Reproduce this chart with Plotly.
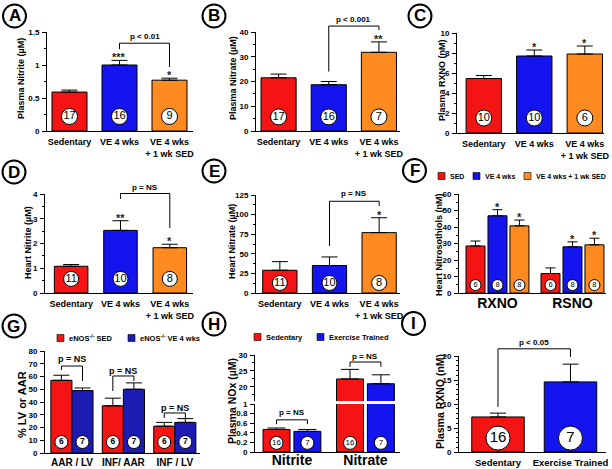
import plotly.graph_objects as go

W, H = 612, 469
FONT = "Liberation Sans"

RED = "#F51414"
BLUE = "#1414EE"
ORANGE = "#FF8A1F"
NAVY = "#1C1CB4"

# ---------------- data ----------------
groups3 = ["Sedentary", "VE 4 wks", "VE 4 wks<br>+ 1 wk SED"]

a_vals = [0.59, 1.00, 0.77]
a_err = [0.03, 0.07, 0.03]
a_n = [17, 16, 9]

b_vals = [21.5, 18.7, 31.8]
b_err = [1.5, 1.3, 4.2]
b_n = [17, 16, 7]

c_vals = [5.45, 7.7, 7.9]
c_err = [0.3, 0.6, 0.8]
c_n = [10, 10, 6]

d_vals = [1.08, 2.53, 1.83]
d_err = [0.07, 0.39, 0.14]
d_n = [11, 10, 8]

e_vals = [29, 35, 77]
e_err = [11, 11, 19]
e_n = [11, 10, 8]

f_cats = ["RXNO", "RSNO"]
f_series = ["SED", "VE 4 wks", "VE 4 wks + 1 wk SED"]
f_vals = [[28.5, 11.8], [46.8, 28.0], [40.7, 29.2]]
f_err = [[3.0, 3.4], [3.7, 3.0], [3.5, 4.0]]
f_n = [[6, 6], [8, 8], [8, 8]]

g_cats = ["AAR / LV", "INF/ AAR", "INF / LV"]
g_series = ["eNOS<sup>-/-</sup> SED", "eNOS<sup>-/-</sup> VE 4 wks"]
g_vals = [[57, 37, 21], [49, 50, 24]]
g_err = [[4, 6, 3], [2, 5, 3]]
g_n = [[6, 6, 6], [7, 7, 7]]

h_cats = ["Nitrite", "Nitrate"]
h_series = ["Sedentary", "Exercise Trained"]
h_vals = [[0.47, 22.5], [0.43, 21.0]]
h_err = [[0.03, 3.0], [0.04, 2.8]]
h_n = [[16, 16], [7, 7]]

i_cats = ["Sedentary", "Exercise Trained"]
i_vals = [7.3, 14.6]
i_err = [0.8, 3.7]
i_n = [16, 7]

# ---------------- helpers ----------------
fig = go.Figure()
layout = {}
shapes = []
annotations = []
ranges = {}


def sfx(i):
    return "" if i == 1 else str(i)


def add_axes(i, box, xr, yr, tickvals, ticktext, xfont=9, dtick=None, minor=None,
             ytickvals=None, anchor_x=None, xstandoff=2):
    x0, x1, top, bot = box
    s = sfx(i)
    ranges[i] = (xr, yr)
    if tickvals is not None:
        layout["xaxis" + s] = dict(
            domain=[x0 / W, x1 / W], range=xr, anchor="y" + s, automargin=False,
            showline=True, linecolor="black", linewidth=1, ticks="",
            showgrid=False, zeroline=False, tickvals=tickvals, ticktext=ticktext,
            tickfont=dict(family=FONT, size=xfont, color="black", weight="bold"),
            ticklabelstandoff=xstandoff,
        )
    ya = dict(
        domain=[1 - bot / H, 1 - top / H], range=yr, automargin=False,
        anchor="x" + (s if anchor_x is None else sfx(anchor_x)),
        showline=True, linecolor="black", linewidth=1, ticks="outside", ticklen=4,
        tickwidth=1, tickcolor="black", showgrid=False, zeroline=False,
        tickfont=dict(family=FONT, size=8, color="black", weight="bold"),
        ticklabelstandoff=1,
    )
    if dtick is not None:
        ya["dtick"] = dtick
        ya["tick0"] = 0
    if ytickvals is not None:
        ya["tickvals"] = ytickvals
    if minor is not None:
        ya["minor"] = dict(ticks="outside", dtick=minor, ticklen=2, tickcolor="black",
                           tickwidth=1, showgrid=False)
    layout["yaxis" + s] = ya


def fx(i, x):
    xr = ranges[i][0]
    return (x - xr[0]) / (xr[1] - xr[0])


def fy(i, y):
    yr = ranges[i][1]
    return (y - yr[0]) / (yr[1] - yr[0])


def line(i, xa, ya, xb, yb, xi=None):
    s = sfx(i)
    xi = i if xi is None else xi
    shapes.append(dict(type="line", xref="x" + sfx(xi) + " domain", yref="y" + s + " domain",
                       x0=fx(xi, xa), y0=fy(i, ya), x1=fx(xi, xb), y1=fy(i, yb),
                       line=dict(color="black", width=1)))


def text_at(i, x, y, text, size, xi=None, yanchor="middle", yshift=0, color="black"):
    xi = i if xi is None else xi
    annotations.append(dict(text=text, x=fx(xi, x), y=fy(i, y),
                            xref="x" + sfx(xi) + " domain", yref="y" + sfx(i) + " domain",
                            showarrow=False, xanchor="center", yanchor=yanchor, yshift=yshift,
                            font=dict(family=FONT, size=size, color=color, weight="bold")))


def bracket(i, xa, xb, ytop, ya_end, yb_end, text, ytext, xi=None, fsize=8):
    line(i, xa, ya_end, xa, ytop, xi)
    line(i, xa, ytop, xb, ytop, xi)
    line(i, xb, ytop, xb, yb_end, xi)
    text_at(i, (xa + xb) / 2, ytext, text, fsize, xi=xi)


def star(i, x, y, text, xi=None, size=11):
    text_at(i, x, y, text, size, xi=xi, yanchor="bottom", yshift=-5, color="#222222")


def bars(i, x, vals, err, colors, width, offset=None, yi=None, cap=8):
    s = sfx(i)
    ys = sfx(i if yi is None else yi)
    fig.add_trace(go.Bar(
        x=x, y=vals, width=width, offset=offset, xaxis="x" + s, yaxis="y" + ys,
        marker=dict(color=colors, line=dict(color="black", width=1)),
        error_y=dict(type="data", array=err, arrayminus=[0] * len(vals), symmetric=False,
                     color="black", thickness=1, width=cap),
        showlegend=False, hoverinfo="skip",
    ))


def nlabels(i, x, ny, ns, size, fsize, bold=False, yi=None):
    s = sfx(i)
    ys = sfx(i if yi is None else yi)
    fig.add_trace(go.Scatter(
        x=x, y=[ny] * len(ns), mode="markers+text", text=[str(n) for n in ns],
        textposition="middle center", xaxis="x" + s, yaxis="y" + ys,
        marker=dict(size=size, color="white", line=dict(color="black", width=1)),
        textfont=dict(family=FONT, size=fsize, color="black", weight="bold" if bold else "normal"),
        showlegend=False, hoverinfo="skip", cliponaxis=False,
    ))


def ytitle(text, xpx, ypx, size=9):
    annotations.append(dict(text=text, x=xpx / W, y=1 - ypx / H, xref="paper", yref="paper",
                            showarrow=False, textangle=-90, xanchor="center", yanchor="middle",
                            font=dict(family=FONT, size=size, color="black", weight="bold")))


def letter(ch, cx, cy, r=11.5):
    shapes.append(dict(type="circle", xref="paper", yref="paper",
                       x0=(cx - r) / W, x1=(cx + r) / W, y0=1 - (cy + r) / H, y1=1 - (cy - r) / H,
                       line=dict(color="black", width=2), fillcolor="white"))
    annotations.append(dict(text=ch, x=cx / W, y=1 - cy / H, xref="paper", yref="paper",
                            showarrow=False, xanchor="center", yanchor="middle",
                            font=dict(family=FONT, size=17, color="black", weight="bold")))


def legend_item(xpx, ypx, color, text, size=7):
    shapes.append(dict(type="rect", xref="paper", yref="paper",
                       x0=xpx / W, x1=(xpx + 7) / W, y0=1 - (ypx + 3.5) / H, y1=1 - (ypx - 3.5) / H,
                       line=dict(color="black", width=0.6), fillcolor=color))
    annotations.append(dict(text=text, x=(xpx + 10) / W, y=1 - ypx / H, xref="paper", yref="paper",
                            showarrow=False, xanchor="left", yanchor="middle",
                            font=dict(family=FONT, size=size, color="black", weight="bold")))


cols3 = [RED, BLUE, ORANGE]
idx3 = [0, 1, 2]

# ---------------- A ----------------
add_axes(1, (47, 193, 32, 131), [-0.45, 2.47], [0, 1.5], idx3, groups3, dtick=0.5, minor=0.25)
bars(1, idx3, a_vals, a_err, cols3, 0.7)
nlabels(1, idx3, 0.22, a_n, 16, 11)
star(1, 1, a_vals[1] + a_err[1], "***")
star(1, 2, a_vals[2] + a_err[2], "*")
bracket(1, 1, 2, 1.33, 1.24, 0.97, "p < 0.01", 1.43)
ytitle("Plasma Nitrite (µM)", 21, 79)
letter("A", 14.5, 16)

# ---------------- B ----------------
add_axes(2, (256, 400, 32, 131), [-0.45, 2.42], [0, 40], idx3, groups3, dtick=10, minor=5)
bars(2, idx3, b_vals, b_err, cols3, 0.7)
nlabels(2, idx3, 5.7, b_n, 16, 11)
star(2, 2, b_vals[2] + b_err[2], "**")
bracket(2, 1, 2, 42.4, 24, 40.8, "p < 0.001", 45.2)
ytitle("Plasma Nitrate (µM)", 233, 78)
letter("B", 214, 16)

# ---------------- C ----------------
add_axes(3, (457, 604, 33, 133), [-0.53, 2.38], [0, 10], idx3, groups3, dtick=2, minor=1)
bars(3, idx3, c_vals, c_err, cols3, 0.7)
nlabels(3, idx3, 1.5, c_n, 16, 11)
star(3, 1, c_vals[1] + c_err[1], "*")
star(3, 2, c_vals[2] + c_err[2], "*")
ytitle("Plasma RXNO (nM)", 442, 80)
letter("C", 420, 16)

# ---------------- D ----------------
add_axes(4, (45, 193, 194, 293), [-0.53, 2.47], [0, 4], idx3, groups3, dtick=1, minor=0.5)
bars(4, idx3, d_vals, d_err, cols3, 0.68)
nlabels(4, idx3, 0.57, d_n, 15, 11)
star(4, 1, d_vals[1] + d_err[1], "**")
star(4, 2, d_vals[2] + d_err[2], "*")
bracket(4, 1, 2, 4.02, 3.8, 2.63, "p = NS", 4.26)
ytitle("Heart Nitrite (µM)", 28, 242)
letter("D", 14, 172)

# ---------------- E ----------------
add_axes(5, (256, 400, 195, 293), [-0.48, 2.42], [0, 125], idx3, groups3, dtick=25, minor=12.5)
bars(5, idx3, e_vals, e_err, cols3, 0.69)
nlabels(5, idx3, 12.8, e_n, 15, 11)
star(5, 2, e_vals[2] + e_err[2], "*")
bracket(5, 1, 2, 117, 60, 111, "p = NS", 127.5)
ytitle("Heart Nitrate (µM)", 232, 242)
letter("E", 214, 171)

# ---------------- F ----------------
add_axes(6, (459, 606, 194, 293), [-0.513, 1.447], [0, 60], [0, 1], f_cats, xfont=14,
         dtick=10, minor=5, xstandoff=-3)
fw, fsp = 0.253, 0.293
for k in range(3):
    off = (k - 1) * fsp - fw / 2
    bars(6, [0, 1], f_vals[k], f_err[k], cols3[k], fw, offset=off, cap=5)
    xs = [g + (k - 1) * fsp for g in range(2)]
    nlabels(6, xs, 4.8, f_n[k], 11, 7.5)
    if k > 0:
        for g in range(2):
            star(6, xs[g], f_vals[k][g] + f_err[k][g], "*")
ytitle("Heart Nitrosothiols (nM)", 439, 245)
letter("F", 414.5, 170.5)
legend_item(438, 176, RED, f_series[0])
legend_item(473, 176, BLUE, f_series[1])
legend_item(524, 176, ORANGE, f_series[2])

# ---------------- G ----------------
add_axes(7, (45, 200, 351, 453), [-0.524, 2.49], [0, 80], [0, 1, 2], g_cats, xfont=10,
         dtick=10, xstandoff=0)
gw = 0.41
gcols = [RED, NAVY]
for k in range(2):
    off = -gw if k == 0 else 0
    bars(7, [0, 1, 2], g_vals[k], g_err[k], gcols[k], gw, offset=off, cap=8)
    xs = [g + (k - 0.5) * gw for g in range(3)]
    nlabels(7, xs, 8.6, g_n[k], 13, 8.5, bold=True)
bracket(7, -gw / 2, gw / 2, 68.2, 65, 56.5, "p = NS", 73.8, fsize=9)
bracket(7, 1 - gw / 2, 1 + gw / 2, 60.4, 48.6, 56.5, "p = NS", 64.6, fsize=9)
bracket(7, 2 - gw / 2, 2 + gw / 2, 31.4, 27.5, 27.5, "p = NS", 35.6, fsize=9)
ytitle("% LV or AAR", 22, 405, size=11)
letter("G", 14, 326)
legend_item(57, 338, RED, g_series[0], size=7.5)
legend_item(128, 338, NAVY, g_series[1], size=7.5)

# ---------------- H (broken axis) ----------------
add_axes(8, (255, 400, 404, 452), [-0.503, 1.47], [0, 1.0], [0, 1], h_cats, xfont=14,
         dtick=0.2, xstandoff=-5)
add_axes(10, (255, 400, 355, 401), [-0.503, 1.47], [15.6, 30], None, None,
         ytickvals=[20, 25, 30], anchor_x=8)
layout["yaxis10"]["minor"] = dict(ticks="outside", dtick=2.5, tick0=0, ticklen=2,
                                  tickcolor="black", tickwidth=1)
hw, hsp = 0.367, 0.21
hcols = [RED, BLUE]
for k in range(2):
    off = (k - 0.5) * 2 * hsp - hw / 2
    bars(8, [0, 1], h_vals[k], [h_err[k][0], 0], hcols[k], hw, offset=off, cap=9)
    bars(8, [0, 1], h_vals[k], [0, h_err[k][1]], hcols[k], hw, offset=off, yi=10, cap=9)
    xs = [g + (k - 0.5) * 2 * hsp for g in range(2)]
    nlabels(8, xs, 0.19, h_n[k], 13, 8)
bracket(8, -hsp, hsp, 0.67, 0.58, 0.58, "p = NS", 0.82, fsize=8)
bracket(10, 1 - hsp, 1 + hsp, 27.8, 26.3, 26.3, "p = NS", 29.5, xi=8, fsize=8)
ytitle("Plasma NOx (µM)", 232, 401, size=10.5)
letter("H", 214, 324)
legend_item(254, 337, RED, h_series[0], size=7.5)
legend_item(317, 337, BLUE, h_series[1], size=7.5)

# ---------------- I ----------------
add_axes(9, (459, 606, 356, 452), [-0.538, 1.49], [0, 20], [0, 1], i_cats, xfont=9.5,
         dtick=5, minor=1)
bars(9, [0, 1], i_vals, i_err, [RED, BLUE], 0.724)
nlabels(9, [0, 1], 2.9, i_n, 24, 15)
bracket(9, 0, 1, 21.5, 9.4, 19.8, "p < 0.05", 22.8)
ytitle("Plasma RXNO (nM)", 440, 402, size=10.5)
letter("I", 413.5, 323.5)

fig.update_layout(
    template="none",
    width=W, height=H, margin=dict(l=0, r=0, t=0, b=0, autoexpand=False),
    paper_bgcolor="white", plot_bgcolor="white", showlegend=False,
    barmode="overlay", shapes=shapes, annotations=annotations,
    font=dict(family=FONT, color="black"),
    **layout,
)
fig.write_html(
    "out.html",
    config={"displayModeBar": False, "staticPlot": True},
    post_script="document.body.style.margin='0px';document.body.style.padding='0px';"
                "document.body.style.overflow='hidden';",
)
